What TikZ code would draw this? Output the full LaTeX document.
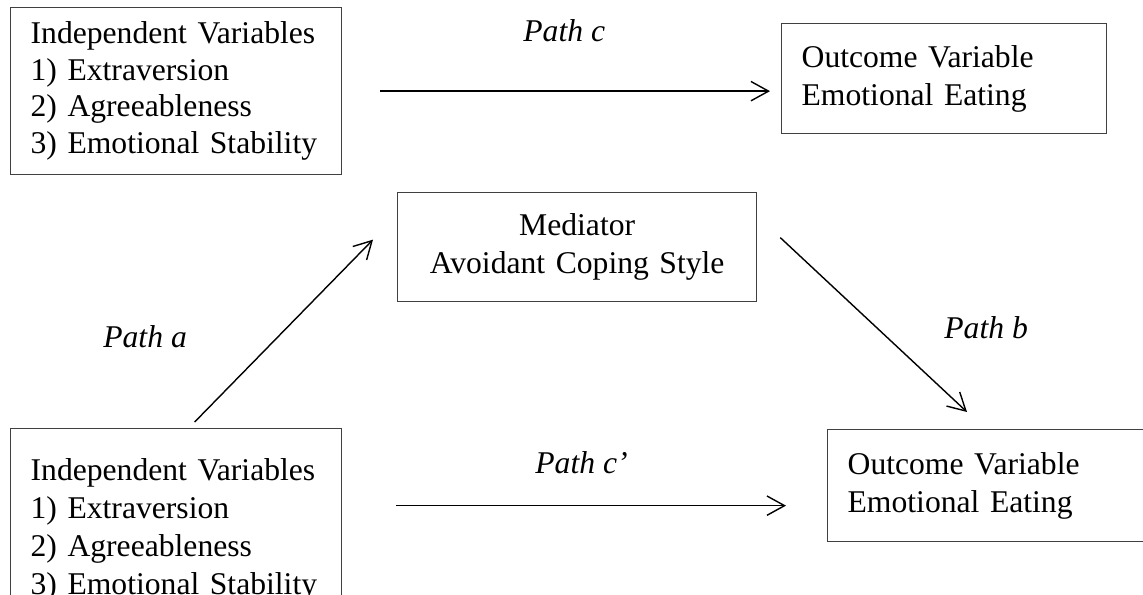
\documentclass[tikz,border=0pt]{standalone}
\usepackage{fontspec}
\setmainfont{Liberation Serif}
\usetikzlibrary{calc, positioning, arrows.meta}
\tikzset{
  pathlabel/.style={font=\fontsize{18}{21.5}\selectfont\itshape, inner sep=0pt, anchor=base west},
  effect/.style={-{Straight Barb[length=10pt, width=11pt]}, line width=0.8pt}
}

\begin{document}
\begin{tikzpicture}[
    font=\fontsize{18}{21.5}\selectfont,
    box/.style={
        draw=black!75, line width=0.75pt, align=left,
        inner xsep=0.4cm, inner ysep=0pt, anchor=north west
      }
  ]
  \useasboundingbox (0,0) rectangle (22.86,-11.9);
  \clip (0,0) rectangle (22.86,-11.9);

  \node[box, text width=5.82cm, minimum height=3.34cm, font=\fontsize{18}{20.8}\selectfont] (ivtop) at (0.2,-0.14)
  {Independent Variables\\1) Extraversion\\2) Agreeableness\\3) Emotional Stability};
  \node[box, text width=5.7cm, minimum height=2.2cm] (outtop) at (15.62,-0.46)
  {Outcome Variable\\Emotional Eating};
  \node[box, align=center, text width=6.38cm, minimum height=2.18cm] (med) at (7.94,-3.84)
  {Mediator\\Avoidant Coping Style};
  \node[box, text width=5.82cm, minimum height=4.06cm, font=\fontsize{18}{21.7}\selectfont] (ivbot) at (0.2,-8.56)
  {Independent Variables\\1) Extraversion\\2) Agreeableness\\3) Emotional Stability};
  \node[box, text width=6.2cm, minimum height=2.24cm] (outbot) at (16.54,-8.58)
  {Outcome Variable\\Emotional Eating};

  % total effect
  \draw[effect] ([xshift=0.76cm]ivtop.east) coordinate (ctop) -- ([xshift=-0.22cm]ctop -| outtop.west);
  \node[pathlabel] (lc) at (10.46,-0.84) {Path c};

  % indirect effect
  \draw[effect] ([shift={(0.37,0.12)}]ivbot.north) -- ([shift={(-0.48,0.15)}]med.west);
  \node[pathlabel] (la) at (2.06,-6.96) {Path a};
  \draw[effect] ([shift={(0.46,0.19)}]med.east) -- ([shift={(2.8,0.34)}]outbot.north west);
  \node[pathlabel] (lb) at (18.88,-6.78) {Path b};

  % direct effect
  \draw[effect] ([shift={(1.08,0.49)}]ivbot.east) coordinate (cbot) -- ([xshift=-0.82cm]cbot -| outbot.west);
  \node[pathlabel] (lcp) at (10.70,-9.46) {Path c’};

\end{tikzpicture}
\end{document}
